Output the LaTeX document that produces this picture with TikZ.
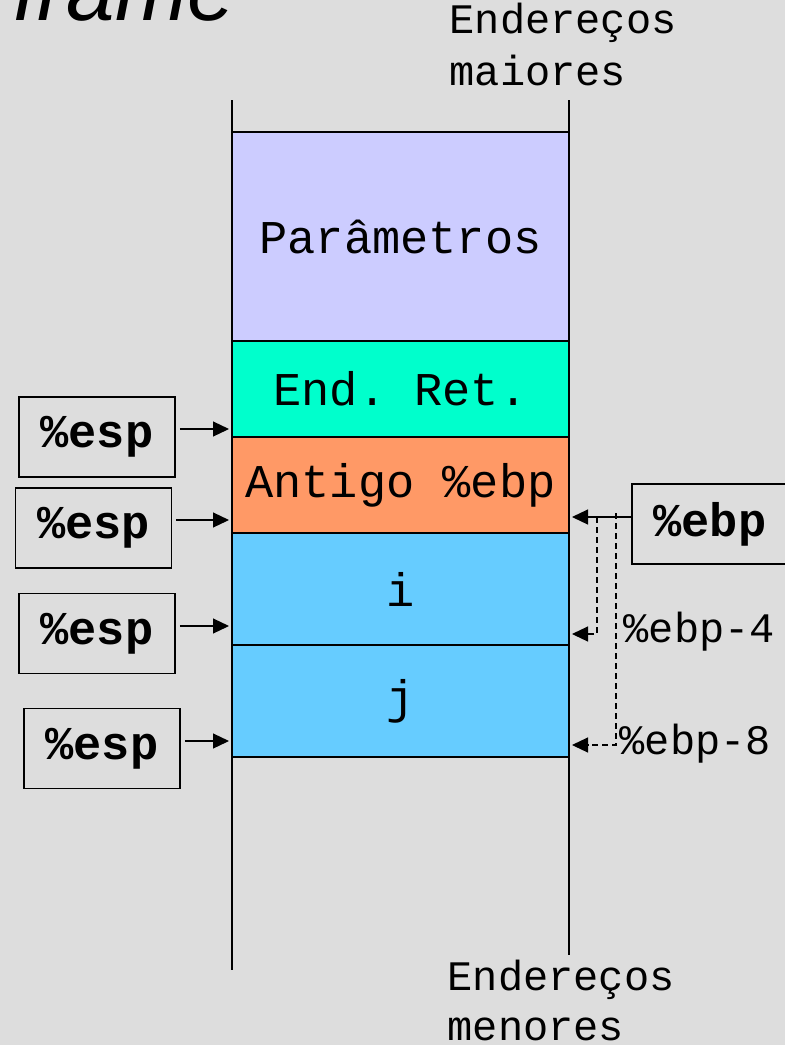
\documentclass[tikz,border=0pt]{standalone}
\usepackage{fontspec}
\setmainfont{Liberation Sans}
\setmonofont{Liberation Mono}
\usetikzlibrary{arrows.meta,positioning}

\definecolor{fundo}{HTML}{DDDDDD}
\definecolor{lilas}{HTML}{CCCCFF}
\definecolor{verdeagua}{HTML}{00FFCC}
\definecolor{laranja}{HTML}{FF9966}
\definecolor{azul}{HTML}{66CCFF}

\tikzset{
  bloco/.style={draw, line width=1.2pt, minimum width=337pt, inner sep=0pt, outer sep=0pt,
                font=\ttfamily\fontsize{47}{47}\selectfont},
  reg/.style={draw, line width=1.6pt, minimum width=156pt, minimum height=80pt, inner sep=0pt,
              font=\ttfamily\bfseries\fontsize{47}{47}\selectfont},
  rotulo/.style={inner sep=0pt, font=\ttfamily\fontsize{42}{42}\selectfont},
  seta/.style={-{Triangle[length=16pt,width=15pt]}, shorten >=3pt},
}

\begin{document}
\begin{tikzpicture}[x=1pt,y=-1pt,line width=1.2pt]
        \fill[fundo] (0,0) rectangle (785,1045);
        \useasboundingbox (0,0) rectangle (785,1045);

        \node[anchor=base west,inner sep=0pt,font=\itshape\fontsize{87}{87}\selectfont] (titulo) at (13,20) {frame};

        % bordas da pilha
        \draw (232,100) -- (232,970);
        \draw (569,100) -- (569,955);

        % conteudo do frame
        \node[bloco,fill=lilas,minimum height=209pt] (param) at (400.5,236.5) {Parâmetros};
        \node[bloco,fill=verdeagua,minimum height=96pt,below=0pt of param] (ret) {End. Ret.};
        \node[bloco,fill=laranja,minimum height=96pt,below=0pt of ret] (antigo) {Antigo \%ebp};
        \node[bloco,fill=azul,minimum height=112pt,below=0pt of antigo] (vari) {i};
        \node[bloco,fill=azul,minimum height=112pt,below=0pt of vari] (varj) {j};

        \node[rotulo,anchor=base west] (maiores1) at (449,33) {Endereços};
        \node[rotulo,anchor=base west] (maiores2) at (449,85) {maiores};
        \node[rotulo,anchor=base west] (menores1) at (447,990) {Endereços};
        \node[rotulo,anchor=base west] (menores2) at (447,1040) {menores};

        % valores de %esp
        \node[reg] (esp1) at (97,437) {\%esp};
        \node[reg] (esp2) at (93.5,528) {\%esp};
        \node[reg] (esp3) at (97,633.5) {\%esp};
        \node[reg] (esp4) at (102,748.5) {\%esp};

        \coordinate (topo1) at (232,429);
        \coordinate (topo2) at (232,520);
        \coordinate (topo3) at (232,626);
        \coordinate (topo4) at (232,741);

        \draw[seta] (esp1.east |- topo1) ++(4,0) -- (topo1);
        \draw[seta] (esp2.east |- topo2) ++(4,0) -- (topo2);
        \draw[seta] (esp3.east |- topo3) ++(4,0) -- (topo3);
        \draw[seta] (esp4.east |- topo4) ++(4,0) -- (topo4);

        % %ebp e deslocamentos
        \node[reg] (ebp) at (710,524) {\%ebp};

        \coordinate (base) at (569,517);
        \coordinate (base4) at (569,634);
        \coordinate (base8) at (569,745);
        \coordinate (d4) at (597,517);
        \coordinate (d8) at (616,513);

        \draw[seta] (ebp.west |- base) -- (base);
        \draw[seta,dash pattern=on 6pt off 4pt] (d4) |- (base4);
        \draw[seta,dash pattern=on 6pt off 4pt] (d8) |- (base8);

        \node[rotulo,anchor=west] (menos4) at (623,632) {\%ebp-4};
        \node[rotulo,anchor=west] (menos8) at (619,744) {\%ebp-8};
\end{tikzpicture}
\end{document}
